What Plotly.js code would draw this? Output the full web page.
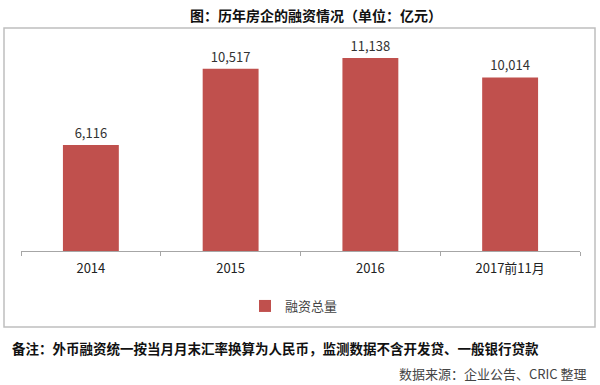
<!DOCTYPE html>
<html>
<head>
<meta charset="utf-8">
<script src="https://cdn.plot.ly/plotly-3.0.1.min.js"></script>
<style>html,body{margin:0;padding:0;background:#fff;}#chart{width:600px;height:385px;}</style>
</head>
<body>
<div id="chart"></div>
<script>
const categories = ['2014', '2015', '2016', '2017前11月'];
const financing = [6116, 10517, 11138, 10014];
const seriesName = '融资总量';
const titleText = '图：历年房企的融资情况（单位：亿元）';
const noteText = '备注：外币融资统一按当月月末汇率换算为人民币，监测数据不含开发贷、一般银行贷款';
const sourceText = '数据来源：企业公告、CRIC 整理';

const FONT = '"Noto Sans CJK SC", "Noto Sans", sans-serif';
const RED = '#C0504D';

const trace = {
  type: 'bar',
  x: categories,
  y: financing,
  name: seriesName,
  marker: {color: RED},
  width: 0.4,
  text: financing.map(v => v.toLocaleString('en-US')),
  textposition: 'outside',
  textfont: {family: FONT, size: 13, color: '#333'},
  cliponaxis: false,
  showlegend: true,
  hoverinfo: 'x+y'
};

// plot area: x 21..580, y 43..251
const px = x => (x - 21) / 559;
const py = y => (251 - y) / 208;

const layout = {
  width: 600,
  height: 385,
  margin: {l: 21, r: 20, t: 43, b: 134},
  paper_bgcolor: '#fff',
  plot_bgcolor: '#fff',
  font: {family: FONT, color: '#333'},
  xaxis: {
    type: 'category',
    showline: true, linecolor: '#a6a6a6', linewidth: 1,
    ticks: 'outside', tickson: 'boundaries', ticklen: 4, tickcolor: '#a6a6a6',
    ticklabelstandoff: 5,
    tickfont: {family: FONT, size: 13, color: '#222'},
    showgrid: false, zeroline: false, fixedrange: true
  },
  yaxis: {
    range: [0, 12000], visible: false, showgrid: false, zeroline: false, fixedrange: true
  },
  showlegend: true,
  legend: {
    orientation: 'h',
    x: px(294), xanchor: 'center',
    y: py(306), yanchor: 'middle',
    font: {family: FONT, size: 13, color: '#444'},
    itemwidth: 30,
    bgcolor: 'rgba(0,0,0,0)'
  },
  shapes: [{
    type: 'rect', xref: 'paper', yref: 'paper',
    x0: px(4), x1: px(595), y0: py(327), y1: py(28),
    line: {color: '#bfbfbf', width: 1.5},
    fillcolor: 'rgba(0,0,0,0)', layer: 'below'
  }],
  annotations: [
    {
      text: '<b>' + titleText + '</b>',
      xref: 'paper', yref: 'paper',
      x: px(188), xanchor: 'left',
      y: py(15), yanchor: 'middle',
      showarrow: false,
      font: {family: FONT, size: 14, color: '#111'}
    },
    {
      text: '<b>' + noteText + '</b>',
      xref: 'paper', yref: 'paper',
      x: px(10), xanchor: 'left',
      y: py(348), yanchor: 'middle',
      showarrow: false,
      font: {family: FONT, size: 13.5, color: '#111'}
    },
    {
      text: sourceText,
      xref: 'paper', yref: 'paper',
      x: px(589), xanchor: 'right',
      y: py(373), yanchor: 'middle',
      showarrow: false,
      font: {family: FONT, size: 13, color: '#444'}
    }
  ]
};

Plotly.newPlot('chart', [trace], layout, {displayModeBar: false, staticPlot: true});
</script>
</body>
</html>
